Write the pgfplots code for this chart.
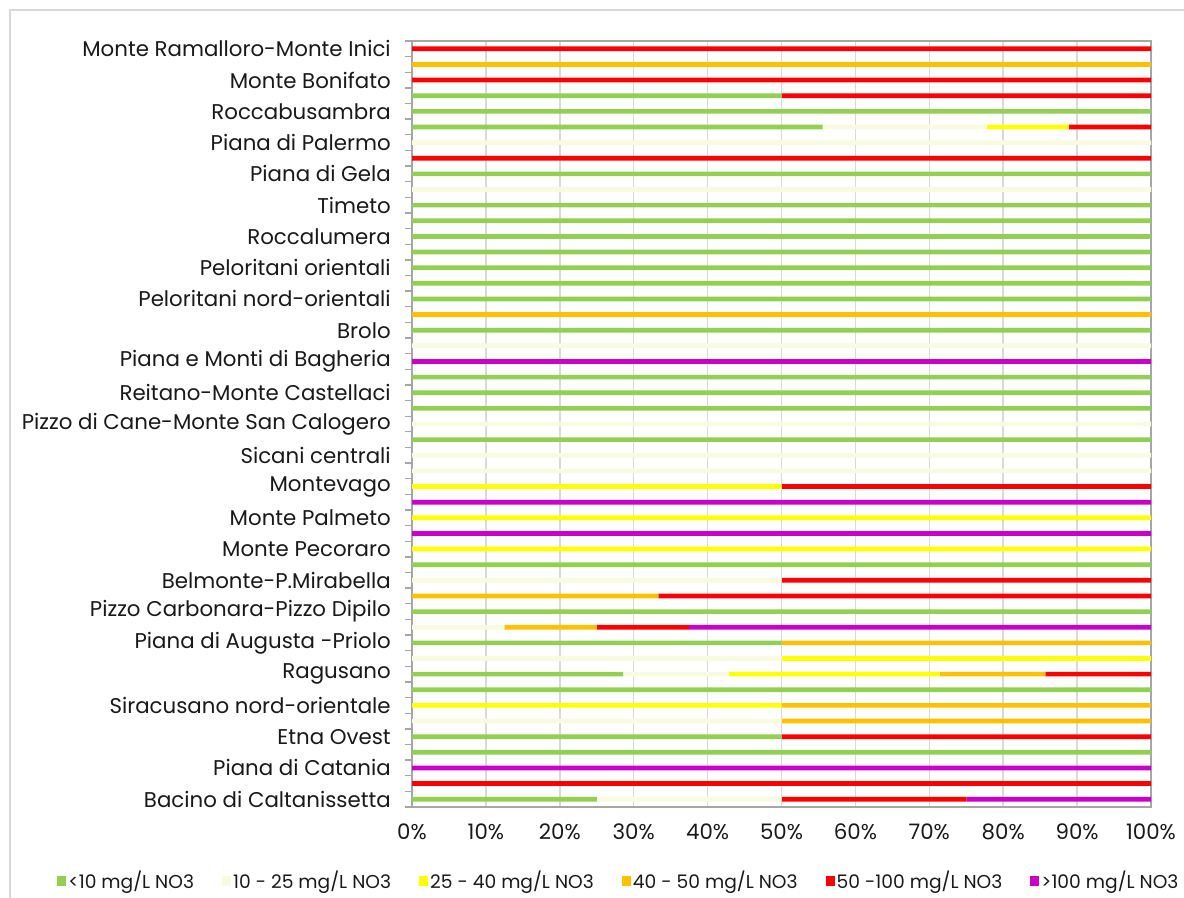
\documentclass[border=0pt]{standalone}
\usepackage{pgfplots}
\pgfplotsset{compat=1.18}
\usepackage{pgfplotstable}
\usepackage{fontspec}
\setmainfont{Poppins}
\definecolor{cG}{HTML}{92D050}
\definecolor{cL}{HTML}{F8FBDF}
\definecolor{cY}{HTML}{FFFF00}
\definecolor{cO}{HTML}{FFC000}
\definecolor{cR}{HTML}{FF0000}
\definecolor{cP}{HTML}{CC00CC}
\definecolor{cGrid}{HTML}{D9D9D9}
\definecolor{cAxis}{HTML}{A6A6A6}
\pgfplotstableread{
pos g l y o r p
1 25 25 0 0 25 25
2 0 0 0 0 100 0
3 0 0 0 0 0 100
4 100 0 0 0 0 0
5 50 0 0 0 50 0
6 0 50 0 50 0 0
7 0 0 50 50 0 0
8 100 0 0 0 0 0
9 28.57 14.29 28.57 14.28 14.29 0
10 0 50 50 0 0 0
11 50 0 0 50 0 0
12 0 12.5 0 12.5 12.5 62.5
13 100 0 0 0 0 0
14 0 0 0 33.33 66.67 0
15 0 50 0 0 50 0
16 100 0 0 0 0 0
17 0 0 100 0 0 0
18 0 0 0 0 0 100
19 0 0 100 0 0 0
20 0 0 0 0 0 100
21 0 0 50 0 50 0
22 0 100 0 0 0 0
23 0 100 0 0 0 0
24 100 0 0 0 0 0
25 0 100 0 0 0 0
26 100 0 0 0 0 0
27 100 0 0 0 0 0
28 100 0 0 0 0 0
29 0 0 0 0 0 100
30 0 100 0 0 0 0
31 100 0 0 0 0 0
32 0 0 0 100 0 0
33 100 0 0 0 0 0
34 100 0 0 0 0 0
35 100 0 0 0 0 0
36 100 0 0 0 0 0
37 100 0 0 0 0 0
38 100 0 0 0 0 0
39 100 0 0 0 0 0
40 0 100 0 0 0 0
41 100 0 0 0 0 0
42 0 0 0 0 100 0
43 0 100 0 0 0 0
44 55.56 22.22 11.11 0 11.11 0
45 100 0 0 0 0 0
46 50 0 0 0 50 0
47 0 0 0 0 100 0
48 0 0 0 100 0 0
49 0 0 0 0 100 0
}\datatable
\begin{document}
\begin{tikzpicture}
\useasboundingbox (0,0) rectangle (888pt,-673.5pt);
\draw[cGrid, line width=0.9pt] (7.5pt,-673.5pt) -- (7.5pt,-7.5pt) -- (888pt,-7.5pt);
\begin{axis}[
  at={(309pt,-605.25pt)}, anchor=south west,
  scale only axis, width=554.25pt, height=574.5pt,
  xbar stacked, bar width=0.3,
  xmin=0, xmax=100, ymin=0.5, ymax=49.5,
  xtick={0,10,...,100},
  xticklabel={\pgfmathprintnumber{\tick}\%},
  ytick={1,3,...,49},
  yticklabels={Bacino di Caltanissetta, Piana di Catania, Etna Ovest, Siracusano nord-orientale, Ragusano, Piana di Augusta -Priolo, Pizzo Carbonara-Pizzo Dipilo, Belmonte-P.Mirabella, Monte Pecoraro, Monte Palmeto, Montevago, Sicani centrali, Pizzo di Cane-Monte San Calogero, Reitano-Monte Castellaci, Piana e Monti di Bagheria, Brolo, Peloritani nord-orientali, Peloritani orientali, Roccalumera, Timeto, Piana di Gela, Piana di Palermo, Roccabusambra, Monte Bonifato, Monte Ramalloro-Monte Inici},
  minor ytick={0.5,1.5,...,49.5},
  major tick length=0pt, minor tick length=5.25pt, tick align=outside,
  ytick pos=left, xtick pos=bottom,
  xmajorgrids, grid style={color=cGrid, line width=1.1pt},
  axis line style={color=cAxis, line width=1.1pt},
  tick style={color=cAxis, line width=1pt},
  ticklabel style={font=\fontsize{16}{19}\selectfont, text=black!90},
  yticklabel style={inner sep=0pt, xshift=-15.75pt},
  xticklabel style={inner sep=0pt, yshift=-12.5pt},
  /pgf/number format/assume math mode=true,
  every axis plot/.append style={draw=none},
  legend columns=6,
  legend style={at={(axis description cs:0.28,-0.0966)}, anchor=center, draw=none, fill=none,
    font=\fontsize{14}{16}\selectfont, inner sep=0pt,
    /tikz/every even column/.append style={column sep=19.5pt},
    nodes={inner sep=1.5pt, text=black!90}},
  legend image code/.code={\fill[#1] (0pt,-3.4pt) rectangle (6.8pt,3.4pt);},
]
\addplot[fill=cG] table[x=g,y=pos] {\datatable};
\addplot[fill=cL] table[x=l,y=pos] {\datatable};
\addplot[fill=cY] table[x=y,y=pos] {\datatable};
\addplot[fill=cO] table[x=o,y=pos] {\datatable};
\addplot[fill=cR] table[x=r,y=pos] {\datatable};
\addplot[fill=cP] table[x=p,y=pos] {\datatable};
\legend{<10 mg/L NO3, 10 - 25 mg/L NO3, 25 - 40 mg/L NO3, 40 - 50 mg/L NO3, 50 -100 mg/L NO3, >100 mg/L NO3}
\end{axis}
\end{tikzpicture}
\end{document}
